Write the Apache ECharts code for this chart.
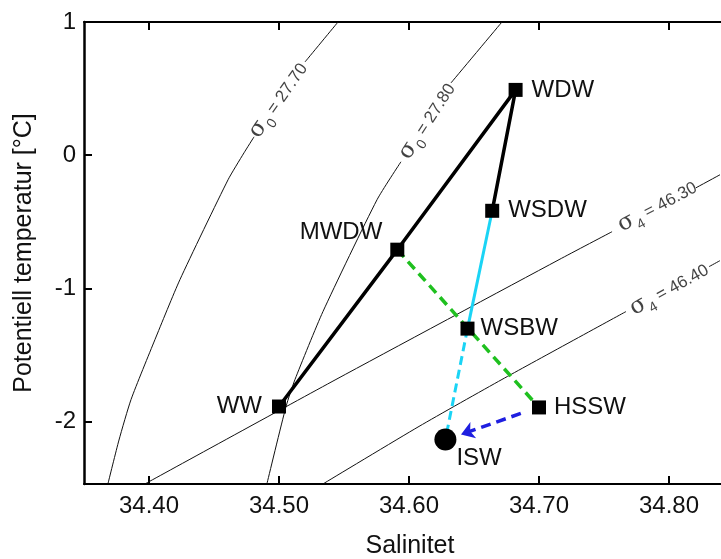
<!DOCTYPE html>
<html><head><meta charset="utf-8">
<script src="https://cdn.jsdelivr.net/npm/echarts@6/dist/echarts.min.js"></script>
<style>html,body{margin:0;padding:0;background:#fff}#c{width:721px;height:559px}</style>
</head><body><div id="c"></div>
<script>
// ---- data ----
const names       = ['WDW', 'WSDW', 'MWDW', 'WSBW', 'WW', 'HSSW', 'ISW'];
const salinity    = [34.682, 34.664, 34.591, 34.645, 34.500, 34.700, 34.628];
const temperature = [0.49, -0.418, -0.71, -1.303, -1.888, -1.895, -2.136];

const blackPath       = ['WW', 'MWDW', 'WDW', 'WSDW'];
const cyanSolidPath   = ['WSDW', 'WSBW'];
const cyanDashedPath  = ['WSBW', 'ISW'];
const greenDashedPath = ['MWDW', 'HSSW'];
const arrowFrom = [34.686, -1.94];
const arrowTo   = [34.640, -2.098];

const xTicks = [34.40, 34.50, 34.60, 34.70, 34.80];
const yTicks = [-2, -1, 0, 1];

// isopycnals (S, T), split where labels sit
const s0_2770_low  = [[34.3685,-2.465],[34.3769,-2.14],[34.3862,-1.835],[34.4046,-1.385],[34.4238,-0.935],[34.4608,-0.185],[34.4731,0.0175],[34.4808,0.1375]];
const s0_2770_high = [[34.5200,0.700],[34.5454,1.0]];
const s0_2780_low  = [[34.4908,-2.465],[34.5054,-1.888],[34.5123,-1.685],[34.5338,-1.175],[34.5754,-0.335],[34.5938,-0.05]];
const s0_2780_high = [[34.6323,0.5425],[34.6715,1.0]];
const s4_4630_low  = [[34.3977,-2.465],[34.5438,-1.685],[34.7154,-0.785],[34.7562,-0.575]];
const s4_4630_high = [[34.8208,-0.245],[34.8392,-0.1475]];
const s4_4640_low  = [[34.5346,-2.465],[34.6077,-2.0375],[34.6715,-1.685],[34.7669,-1.175]];
const s4_4640_high = [[34.8308,-0.8375],[34.8392,-0.7925]];

const isoValues = ['27.70', '27.80', '46.30', '46.40'];
const isoSubs   = ['0', '0', '4', '4'];
const isoLabelS = [34.4992, 34.6138, 34.7908, 34.8000];
const isoLabelT = [0.415, 0.2575, -0.38, -1.0025];
const isoAngles = [55, 57, 28, 29];

// ---- helpers ----
const pt = n => { const i = names.indexOf(n); return [salinity[i], temperature[i]]; };
const FONT = 'Liberation Sans, Arial, sans-serif';
const TXT = '#111';

const labelCfg = {
  WDW:  {position: 'right', distance: 9},
  WSDW: {position: 'right', distance: 9},
  MWDW: {position: 'left', distance: 8, offset: [0, -17]},
  WSBW: {position: 'right', distance: 6},
  WW:   {position: 'left', distance: 10},
  HSSW: {position: 'right', distance: 8},
  ISW:  {position: [22, 18], align: 'left', verticalAlign: 'top'}
};

function isoSeries(data) {
  return {type: 'line', data: data, showSymbol: false, symbol: 'none', smooth: 0.2,
    lineStyle: {color: '#111', width: 1}, z: 1, silent: true, animation: false};
}
function pathSeries(path, color, width, type, z) {
  return {type: 'line', data: path.map(pt), showSymbol: false, symbol: 'none',
    lineStyle: {color: color, width: width, type: type}, z: z, animation: false};
}

const option = {
  backgroundColor: '#fff',
  animation: false,
  grid: {left: 84, top: 22, right: 0, bottom: 75, outerBoundsMode: 'none'},
  xAxis: [{
    type: 'value', position: 'bottom', min: 34.35, max: 34.84,
    axisLine: {onZero: false, lineStyle: {color: '#000', width: 2}},
    axisTick: {inside: true, length: 8, customValues: xTicks, lineStyle: {color: '#000', width: 2}},
    axisLabel: {customValues: xTicks, formatter: v => v.toFixed(2), fontSize: 24, color: TXT, margin: 10, fontFamily: FONT},
    splitLine: {show: false},
    name: 'Salinitet', nameLocation: 'middle', nameGap: 50,
    nameTextStyle: {fontSize: 25, color: TXT, fontFamily: FONT, padding: [0, 0, 0, 15]}
  }, {
    type: 'value', position: 'top', min: 34.35, max: 34.84,
    axisLine: {onZero: false, lineStyle: {color: '#000', width: 2}},
    axisTick: {inside: true, length: 8, customValues: xTicks, lineStyle: {color: '#000', width: 2}},
    axisLabel: {show: false}, splitLine: {show: false}
  }],
  yAxis: {
    type: 'value', min: -2.47, max: 1,
    axisLine: {onZero: false, lineStyle: {color: '#000', width: 2.5}},
    axisTick: {inside: true, length: 8, customValues: yTicks, lineStyle: {color: '#000', width: 2}},
    axisLabel: {customValues: yTicks, fontSize: 24, color: TXT, margin: 8, fontFamily: FONT},
    splitLine: {show: false},
    name: 'Potentiell temperatur [°C]', nameLocation: 'middle', nameGap: 47, nameRotate: 90,
    nameTextStyle: {fontSize: 25, color: TXT, fontFamily: FONT}
  },
  series: [
    isoSeries(s0_2770_low), isoSeries(s0_2770_high),
    isoSeries(s0_2780_low), isoSeries(s0_2780_high),
    isoSeries(s4_4630_low), isoSeries(s4_4630_high),
    isoSeries(s4_4640_low), isoSeries(s4_4640_high),
    {
      type: 'scatter', symbolSize: 0, silent: true, z: 2,
      data: isoValues.map((v, i) => ({
        value: [isoLabelS[i], isoLabelT[i]],
        label: {show: true, position: 'inside', rotate: isoAngles[i],
          formatter: '{s|σ}{b|' + isoSubs[i] + '}{t| = ' + v + '}'}
      })),
      label: {color: TXT, rich: {
        s: {fontSize: 23, fontFamily: 'DejaVu Serif, serif', color: TXT, lineHeight: 24, verticalAlign: 'bottom'},
        b: {fontSize: 14, fontFamily: FONT, color: TXT, verticalAlign: 'bottom', padding: [0, 0, -4, 1]},
        t: {fontSize: 17, fontFamily: FONT, color: TXT, verticalAlign: 'bottom', padding: [0, 0, 2, 0]}
      }}
    },
    pathSeries(greenDashedPath, '#1fc01f', 3.5, [10, 6], 3),
    pathSeries(cyanSolidPath, '#1ad4f5', 3, 'solid', 3),
    pathSeries(cyanDashedPath, '#1ad4f5', 3, [9, 5], 3),
    pathSeries(blackPath, '#000', 3.5, 'solid', 4),
    {
      type: 'lines', coordinateSystem: 'cartesian2d', z: 4,
      symbol: ['none', 'arrow'], symbolSize: [0, 13],
      lineStyle: {color: '#1f1fe0', width: 3.5, type: [10, 6], opacity: 1, curveness: 0},
      data: [{coords: [arrowFrom, arrowTo]}]
    },
    {
      type: 'scatter', z: 6,
      data: names.map((n, i) => ({
        value: [salinity[i], temperature[i]], name: n,
        symbol: n === 'ISW' ? 'circle' : 'rect',
        symbolSize: n === 'ISW' ? 22 : 14,
        label: Object.assign({show: true, formatter: n, fontSize: 24, color: TXT, fontFamily: FONT}, labelCfg[n])
      })),
      itemStyle: {color: '#000', opacity: 1}
    }
  ]
};

const chart = echarts.init(document.getElementById('c'), null, {renderer: 'canvas'});
chart.setOption(option);
</script>
</body></html>
